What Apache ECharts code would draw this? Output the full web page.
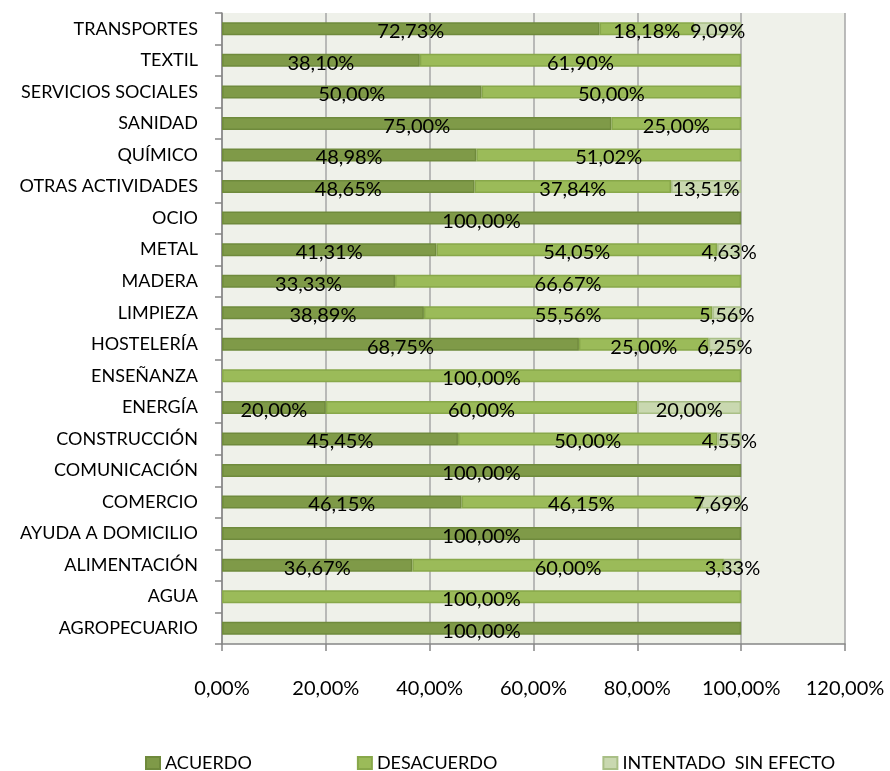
<!DOCTYPE html>
<html>
  <head>
    <meta charset="utf-8" />
    <title>Acuerdo por sector</title>
    <script src="https://cdn.jsdelivr.net/npm/echarts@6/dist/echarts.min.js"></script>
    <style>
      html, body { margin: 0; padding: 0; background: #fff; }
      #main { width: 890px; height: 771px; }
    </style>
  </head>
  <body>
    <div id="main"></div>
    <script>
      // sectores, de abajo hacia arriba (como en el eje)
      var sectores = ['AGROPECUARIO', 'AGUA', 'ALIMENTACIÓN', 'AYUDA A DOMICILIO', 'COMERCIO',
        'COMUNICACIÓN', 'CONSTRUCCIÓN', 'ENERGÍA', 'ENSEÑANZA', 'HOSTELERÍA', 'LIMPIEZA',
        'MADERA', 'METAL', 'OCIO', 'OTRAS ACTIVIDADES', 'QUÍMICO', 'SANIDAD',
        'SERVICIOS SOCIALES', 'TEXTIL', 'TRANSPORTES'];
      var acuerdo = [100, 0, 36.67, 100, 46.15, 100, 45.45, 20, 0, 68.75, 38.89,
        33.33, 41.31, 100, 48.65, 48.98, 75, 50, 38.10, 72.73];
      var desacuerdo = [0, 100, 60, 0, 46.15, 0, 50, 60, 100, 25, 55.56,
        66.67, 54.05, 0, 37.84, 51.02, 25, 50, 61.90, 18.18];
      var sinEfecto = [0, 0, 3.33, 0, 7.69, 0, 4.55, 20, 0, 6.25, 5.56,
        0, 4.63, 0, 13.51, 0, 0, 0, 0, 9.09];
      var nombres = ['ACUERDO', 'DESACUERDO', 'INTENTADO  SIN EFECTO'];
      var colores = ['#7f9a48', '#9bbb59', '#c9d8b0'];
      var bordes = ['#6f8a3c', '#88a84a', '#a9bf86'];

      var fuente = 'Lato';

      function pct(v) {
        return v.toFixed(2).replace('.', ',') + '%';
      }

      function serie(i, datos) {
        return {
          name: nombres[i],
          type: 'bar',
          stack: 'total',
          barWidth: 13,
          data: datos.map(function (v) { return v === 0 ? null : v; }),
          itemStyle: { color: colores[i], borderColor: bordes[i], borderWidth: 1.5 },
          label: {
            show: true,
            position: 'inside',
            offset: [0, 3],
            color: '#000',
            fontFamily: fuente,
            fontSize: 20,
            formatter: function (p) { return pct(p.value); }
          }
        };
      }

      var myChart = echarts.init(document.getElementById('main'));
      var option = {
        animation: false,
        backgroundColor: '#fff',
        grid: {
          left: 222,
          right: 45,
          top: 13,
          bottom: 127,
          show: true,
          backgroundColor: '#eff1ea',
          borderWidth: 0
        },
        legend: {
          top: 749,
          left: 140,
          itemWidth: 14,
          itemHeight: 12,
          itemGap: 105,
          icon: 'rect',
          textStyle: { fontFamily: fuente, fontSize: 18, color: '#000' },
          data: nombres
        },
        xAxis: {
          type: 'value',
          min: 0,
          max: 120,
          interval: 20,
          axisLine: { show: true, lineStyle: { color: '#868686', width: 1.5 } },
          axisTick: { show: true, length: 7, lineStyle: { color: '#868686', width: 1.5 } },
          splitLine: { show: true, lineStyle: { color: '#a6a6a6', width: 1.5 } },
          axisLabel: {
            margin: 35,
            color: '#000',
            fontFamily: fuente,
            fontSize: 20,
            formatter: function (v) { return pct(v); }
          }
        },
        yAxis: {
          type: 'category',
          data: sectores,
          axisLine: { show: true, lineStyle: { color: '#868686', width: 1.5 } },
          axisTick: { show: true, length: 7, lineStyle: { color: '#868686', width: 1.5 } },
          axisLabel: {
            margin: 24,
            color: '#000',
            fontFamily: fuente,
            fontSize: 18
          }
        },
        series: [serie(0, acuerdo), serie(1, desacuerdo), serie(2, sinEfecto)]
      };
      myChart.setOption(option);
    </script>
  </body>
</html>
